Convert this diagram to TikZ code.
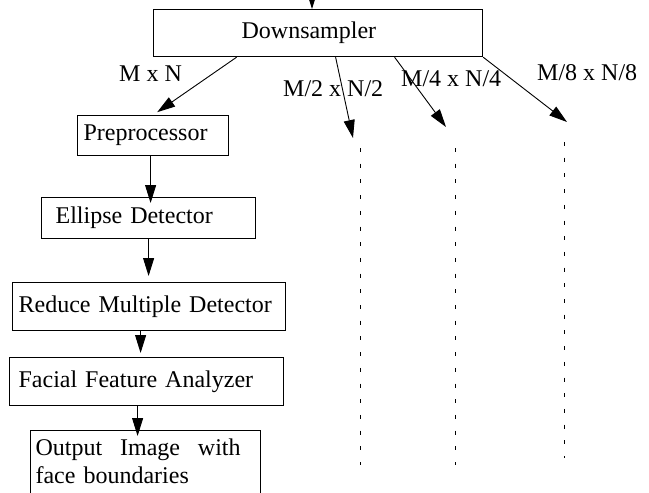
\documentclass[tikz,border=0pt]{standalone}
\usepackage{fontspec}
\setmainfont{Liberation Serif}
\usepackage{tikz}
\usetikzlibrary{arrows.meta,calc}

\begin{document}
\begin{tikzpicture}[x=1pt,y=-1pt]
\tikzset{
     every node/.style={font=\fontsize{24}{28}\selectfont},
     box/.style={draw, line width=1.2pt, anchor=north west, align=left, inner ysep=0pt},
     arr/.style={-{Triangle[length=18pt,width=11pt]}, line width=0.9pt},
     dots/.style={line width=1pt, dash pattern=on 4pt off 11.7pt}}
\useasboundingbox (0,0) rectangle (649,493);

% The boxes
\node (down) [box, text width=153pt, inner xsep=88pt, minimum height=47pt] at (153,9) {Downsampler};
\node (pre)  [box, text width=139pt, inner xsep=6pt, minimum height=40pt] at (77,115) {Preprocessor};
\node (ell)  [box, text width=186pt, inner xsep=14pt, minimum height=41pt] at (41,197) {Ellipse Detector};
\node (red)  [box, text width=261pt, inner xsep=6pt, minimum height=48pt] at (12,282) {Reduce Multiple Detector};
\node (fac)  [box, text width=256pt, inner xsep=9pt, minimum height=48pt] at (9,357) {Facial Feature Analyzer};
\node (out)  [box, text width=220pt, inner xsep=5pt, inner ysep=8pt, text depth=30pt] at (30,430)
      {\makebox[205pt][l]{Output\hfill Image\hfill with}\\face boundaries};

% The sizes
\node (s1) [anchor=base west, inner sep=0pt] at (119,81) {M x N};
\node (s2) [anchor=base west, inner sep=0pt] at (283,96) {M/2 x N/2};
\node (s3) [anchor=base west, inner sep=0pt] at (401,86) {M/4 x N/4};
\node (s4) [anchor=base west, inner sep=0pt] at (537,80) {M/8 x N/8};

% Free ends
\coordinate (in) at (312,0);
\coordinate (t2) at (353,138);
\coordinate (t3) at (446,127);
\coordinate (t4) at (567,122);
\coordinate (d2a) at (360,148);
\coordinate (d2b) at (360,465);
\coordinate (d3a) at (455,148);
\coordinate (d3b) at (455,465);
\coordinate (d4a) at (564,142);
\coordinate (d4b) at (564,458);

% The arrows
\draw [arr] (in) -- (in |- down.north);
\draw [arr, shorten >=5pt] ([xshift=-81.5pt]down.south) -- (pre.north);
\draw [arr] ([xshift=17.5pt]down.south) -- (t2);
\draw [arr] ([xshift=76.5pt]down.south) -- (t3);
\draw [arr] (down.south east) -- (t4);

\draw [arr, shorten >=-6pt] ([xshift=-2.5pt]pre.south) -- ([xshift=-2.5pt]pre.south |- ell.north);
\draw [arr, shorten >=6pt] (ell.south) -- (ell.south |- red.north);
\draw [arr, shorten >=4pt] ([xshift=-8.5pt]red.south) -- ([xshift=-8.5pt]red.south |- fac.north);
\draw [arr, shorten >=-6pt] ([xshift=-9pt]fac.south) -- ([xshift=-9pt]fac.south |- out.north);

% The dashed lines
\draw [dots] (d2a) -- (d2b);
\draw [dots] (d3a) -- (d3b);
\draw [dots] (d4a) -- (d4b);
\end{tikzpicture}
\end{document}
